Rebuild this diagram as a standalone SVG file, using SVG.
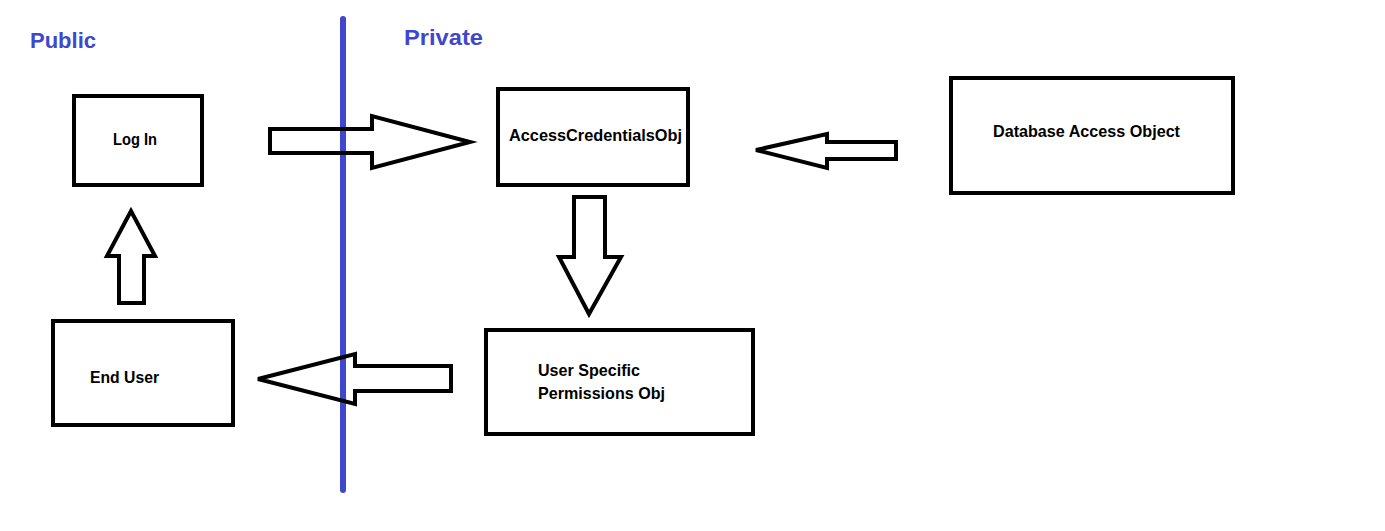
<svg xmlns="http://www.w3.org/2000/svg" width="1385" height="531" viewBox="0 0 1385 531">
<style>
.box{fill:#fff;stroke:#000;stroke-width:4}
.arrow{fill:none;stroke:#000;stroke-width:4;stroke-linejoin:miter}
.lbl{font-family:"Liberation Sans",Arial,sans-serif;font-weight:bold;font-size:17px;fill:#000}
.zone{font-family:"Liberation Sans",Arial,sans-serif;font-weight:bold;font-size:22px;fill:#3F48CC}
</style>
<rect width="1385" height="531" fill="#fff"/>
<g id="divider">
<line x1="343" y1="19" x2="343" y2="490" stroke="#3F48CC" stroke-width="6" stroke-linecap="round"/>
<text class="zone" x="30" y="48" textLength="66" lengthAdjust="spacingAndGlyphs">Public</text>
<text class="zone" x="404" y="45" textLength="79" lengthAdjust="spacingAndGlyphs">Private</text>
</g>
<g id="login">
<rect class="box" x="74" y="96" width="128" height="89"/>
<text class="lbl" x="113" y="145" textLength="44" lengthAdjust="spacingAndGlyphs">Log In</text>
</g>
<g id="access-credentials">
<rect class="box" x="498" y="89" width="190" height="96"/>
<text class="lbl" x="509" y="141" textLength="173" lengthAdjust="spacingAndGlyphs">AccessCredentialsObj</text>
</g>
<g id="database-access">
<rect class="box" x="951" y="78" width="282" height="115"/>
<text class="lbl" x="993" y="137" textLength="187" lengthAdjust="spacingAndGlyphs">Database Access Object</text>
</g>
<g id="permissions">
<rect class="box" x="486" y="330" width="267" height="104"/>
<text class="lbl" x="538" y="376" textLength="102" lengthAdjust="spacingAndGlyphs">User Specific</text>
<text class="lbl" x="538" y="399" textLength="127" lengthAdjust="spacingAndGlyphs">Permissions Obj</text>
</g>
<g id="end-user">
<rect class="box" x="53" y="321" width="180" height="104"/>
<text class="lbl" x="90" y="383" textLength="69" lengthAdjust="spacingAndGlyphs">End User</text>
</g>
<g id="connectors">
<polygon class="arrow" points="270,129 372,129 372,116 470,142 372,168 372,153 270,153"/>
<polygon class="arrow" points="896,142 827,142 827,134 756,150 827,168 827,159 896,159"/>
<polygon class="arrow" points="574,197 605,197 605,257 621,257 589,314 559,257 574,257"/>
<polygon class="arrow" points="451,366 355,366 355,354 258,379 355,404 355,391 451,391"/>
<polygon class="arrow" points="119,303 144,303 144,256 155,256 131,211 107,256 119,256"/>
</g>
</svg>
